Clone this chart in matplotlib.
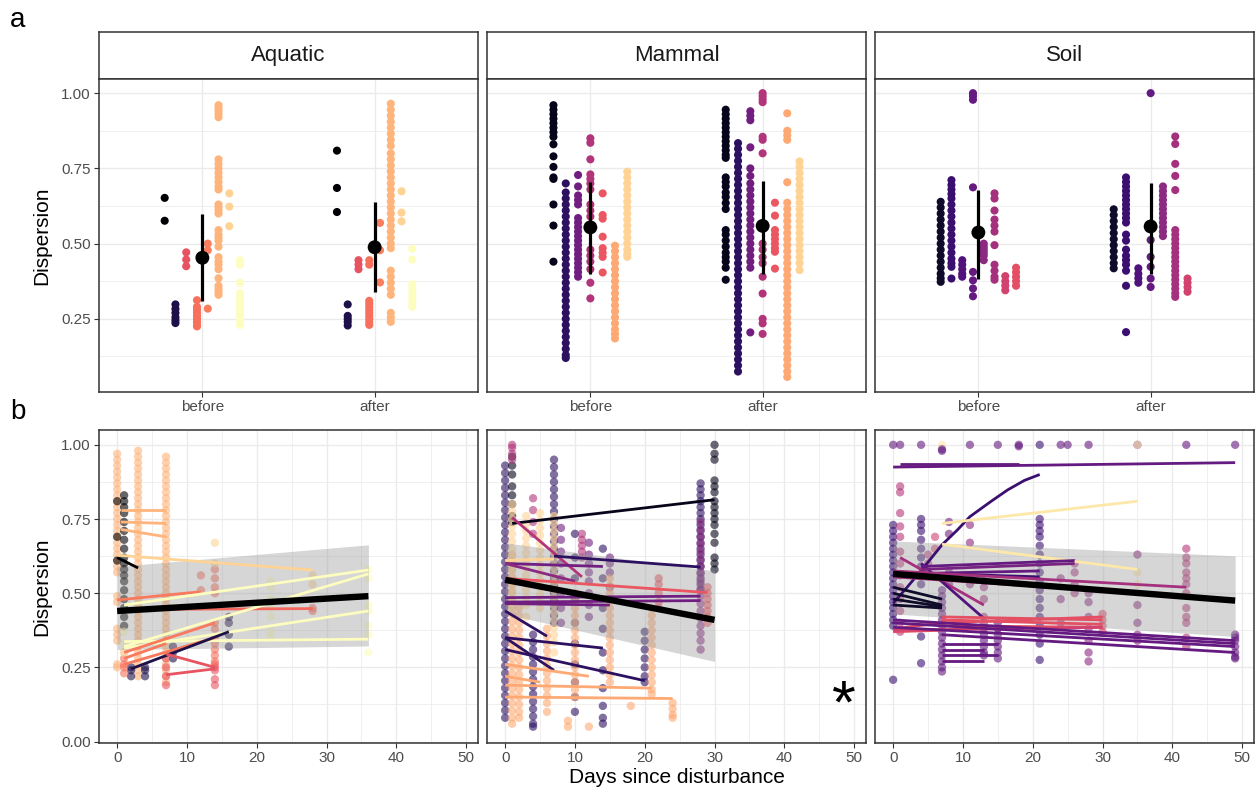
import numpy as np
import matplotlib.pyplot as plt

plt.rcParams['font.family'] = ['Liberation Sans', 'DejaVu Sans']

W, H = 1260, 791
magma = plt.get_cmap('magma')

panels = ['Aquatic', 'Mammal', 'Soil']
groups = ['before', 'after']

# ---- panel a: dispersion per study, before / after (magma fraction of each study)
aq_fracs_b = [0.0, 0.13, 0.63, 0.70, 0.73, 0.84, 0.91, 1.0]
aq_fracs_a = [0.0, 0.13, 0.63, 0.70, 0.73, 0.84, 0.91, 1.0]
aq_before = [
    [0.652, 0.576],
    [0.298, 0.283, 0.27, 0.255, 0.245, 0.236],
    [0.471, 0.447, 0.425],
    [0.312, 0.29, 0.28, 0.27, 0.26, 0.25, 0.24, 0.23, 0.225],
    [0.50, 0.478, 0.284],
    [0.96, 0.95, 0.94, 0.93, 0.92, 0.78, 0.765, 0.75, 0.735, 0.72, 0.705, 0.69, 0.68, 0.63, 0.62,
     0.61, 0.60, 0.545, 0.53, 0.52, 0.51, 0.49, 0.455, 0.44, 0.43, 0.415, 0.385, 0.36, 0.35, 0.34, 0.33],
    [0.667, 0.623, 0.558],
    [0.445, 0.43, 0.37, 0.335, 0.32, 0.305, 0.29, 0.275, 0.26, 0.245, 0.23],
]
aq_after = [
    [0.809, 0.685, 0.605],
    [0.298, 0.26, 0.25, 0.24, 0.228],
    [0.445, 0.43, 0.415],
    [0.445, 0.43, 0.31, 0.30, 0.29, 0.28, 0.27, 0.26, 0.25, 0.24, 0.23],
    [0.569, 0.478, 0.371],
    [0.965, 0.945, 0.925, 0.905, 0.885, 0.865, 0.845, 0.825, 0.80, 0.78, 0.76, 0.74, 0.72, 0.70, 0.68,
     0.66, 0.64, 0.62, 0.60, 0.58, 0.56, 0.54, 0.52, 0.50, 0.485, 0.41, 0.39, 0.37, 0.35, 0.33, 0.27,
     0.255, 0.24],
    [0.674, 0.603, 0.574],
    [0.483, 0.447, 0.365, 0.35, 0.335, 0.32, 0.305, 0.29],
]

mam_fracs_b = [0.05, 0.17, 0.33, 0.49, 0.64, 0.82, 0.91]
mam_fracs_a = [0.05, 0.17, 0.33, 0.49, 0.64, 0.82, 0.91]
mam_before = [
    [0.96, 0.945, 0.93, 0.915, 0.90, 0.885, 0.87, 0.855, 0.83, 0.79, 0.755, 0.72, 0.715, 0.63, 0.56, 0.44],
    [0.70, 0.67, 0.65, 0.63, 0.61, 0.59, 0.57, 0.55, 0.53, 0.51, 0.49, 0.47, 0.45, 0.43, 0.41, 0.39,
     0.37, 0.35, 0.33, 0.31, 0.29, 0.27, 0.25, 0.23, 0.21, 0.19, 0.17, 0.15, 0.13, 0.12],
    [0.728, 0.69, 0.66, 0.645, 0.63, 0.585, 0.57, 0.555, 0.54, 0.525, 0.51, 0.495, 0.48, 0.465, 0.45,
     0.435, 0.42, 0.405, 0.39],
    [0.85, 0.835, 0.78, 0.73, 0.715, 0.70, 0.68, 0.63, 0.61, 0.59, 0.48, 0.46, 0.44, 0.415, 0.37, 0.318],
    [0.667, 0.595, 0.583, 0.523, 0.485, 0.47, 0.456, 0.404],
    [0.493, 0.475, 0.455, 0.435, 0.415, 0.395, 0.375, 0.355, 0.335, 0.315, 0.295, 0.275, 0.255, 0.235,
     0.215, 0.20, 0.185],
    [0.739, 0.72, 0.70, 0.68, 0.66, 0.64, 0.62, 0.60, 0.58, 0.56, 0.54, 0.52, 0.50, 0.48, 0.465, 0.456],
]
mam_after = [
    [0.945, 0.93, 0.915, 0.90, 0.885, 0.87, 0.855, 0.84, 0.825, 0.81, 0.795, 0.785, 0.72, 0.705, 0.69,
     0.67, 0.655, 0.635, 0.615, 0.545, 0.53, 0.51, 0.49, 0.47, 0.455, 0.44, 0.42, 0.38],
    [0.834, 0.815, 0.795, 0.775, 0.755, 0.735, 0.715, 0.695, 0.675, 0.655, 0.635, 0.615, 0.595, 0.575,
     0.555, 0.535, 0.515, 0.495, 0.475, 0.455, 0.435, 0.415, 0.395, 0.375, 0.355, 0.335, 0.315, 0.295,
     0.275, 0.255, 0.235, 0.215, 0.195, 0.175, 0.155, 0.135, 0.115, 0.095, 0.075],
    [0.94, 0.925, 0.91, 0.82, 0.75, 0.725, 0.70, 0.68, 0.66, 0.64, 0.62, 0.60, 0.58, 0.56, 0.54, 0.52,
     0.50, 0.48, 0.46, 0.44, 0.42, 0.205],
    [1.0, 0.99, 0.98, 0.97, 0.855, 0.845, 0.80, 0.50, 0.48, 0.455, 0.435, 0.39, 0.334, 0.25, 0.235, 0.20],
    [0.636, 0.593, 0.545, 0.53, 0.515, 0.50, 0.485, 0.473, 0.417],
    [0.933, 0.875, 0.86, 0.845, 0.704, 0.636, 0.615, 0.595, 0.575, 0.555, 0.535, 0.515, 0.495, 0.475,
     0.455, 0.435, 0.415, 0.395, 0.375, 0.355, 0.335, 0.315, 0.295, 0.275, 0.255, 0.235, 0.215, 0.195,
     0.175, 0.155, 0.135, 0.115, 0.095, 0.075, 0.057],
    [0.773, 0.755, 0.735, 0.715, 0.695, 0.675, 0.655, 0.635, 0.615, 0.595, 0.575, 0.555, 0.535, 0.515,
     0.495, 0.475, 0.455, 0.435, 0.412],
]

soil_fracs_b = [0.08, 0.2, 0.25, 0.3, 0.4, 0.46, 0.57, 0.62]
soil_fracs_a = [0.08, 0.2, 0.25, 0.3, 0.4, 0.46, 0.57]
soil_before = [
    [0.639, 0.62, 0.60, 0.58, 0.56, 0.54, 0.52, 0.50, 0.48, 0.46, 0.44, 0.42, 0.40, 0.385, 0.373],
    [0.711, 0.695, 0.68, 0.665, 0.65, 0.63, 0.61, 0.59, 0.57, 0.55, 0.53, 0.51, 0.49, 0.47, 0.45, 0.435,
     0.423, 0.384],
    [0.445, 0.43, 0.415, 0.40, 0.39],
    [1.0, 0.99, 0.978, 0.687, 0.406, 0.378, 0.351, 0.325],
    [0.50, 0.49, 0.48, 0.47, 0.46, 0.445],
    [0.667, 0.65, 0.61, 0.58, 0.56, 0.54, 0.495, 0.43, 0.41, 0.39, 0.38],
    [0.392, 0.375, 0.36, 0.345],
    [0.42, 0.405, 0.39, 0.375, 0.36],
]
soil_after = [
    [0.614, 0.595, 0.575, 0.555, 0.535, 0.515, 0.495, 0.475, 0.455, 0.435, 0.418],
    [0.72, 0.705, 0.69, 0.675, 0.66, 0.645, 0.63, 0.615, 0.60, 0.585, 0.57, 0.53, 0.51, 0.48, 0.46,
     0.445, 0.43, 0.41, 0.36, 0.206],
    [0.418, 0.40, 0.385, 0.37],
    [1.0, 0.512, 0.456, 0.423, 0.384, 0.356],
    [0.69, 0.675, 0.66, 0.645, 0.63, 0.615, 0.60, 0.585, 0.57, 0.555, 0.54, 0.525],
    [0.856, 0.831, 0.765, 0.725, 0.678, 0.545, 0.53, 0.515, 0.50, 0.485, 0.47, 0.455, 0.44, 0.425, 0.41,
     0.395, 0.38, 0.365, 0.35, 0.335, 0.323],
    [0.384, 0.37, 0.355, 0.34],
]

# mean and interval, before / after
mean_aq, lo_aq, hi_aq = [0.453, 0.488], [0.311, 0.338], [0.600, 0.637]
mean_mam, lo_mam, hi_mam = [0.554, 0.559], [0.399, 0.400], [0.704, 0.709]
mean_soil, lo_soil, hi_soil = [0.537, 0.557], [0.384, 0.400], [0.678, 0.702]

# ---- panel b: dispersion over days since disturbance (frac, day, values)
aq_pts = [
    (0.84, 0, [0.97, 0.95, 0.93, 0.91, 0.89, 0.87, 0.85, 0.83, 0.81, 0.79, 0.77, 0.75, 0.73, 0.71, 0.69,
               0.67, 0.65, 0.63, 0.61, 0.59, 0.57, 0.49, 0.47, 0.38, 0.36, 0.34, 0.26, 0.25]),
    (0.84, 3, [0.98, 0.96, 0.94, 0.92, 0.90, 0.88, 0.86, 0.84, 0.82, 0.80, 0.78, 0.76, 0.74, 0.72, 0.70,
               0.68, 0.66, 0.64, 0.62, 0.60, 0.58, 0.56, 0.54, 0.52, 0.50, 0.48, 0.46, 0.44, 0.42, 0.40,
               0.38, 0.36, 0.34, 0.32, 0.30, 0.28, 0.26, 0.24, 0.22]),
    (0.84, 7, [0.96, 0.94, 0.92, 0.90, 0.88, 0.86, 0.84, 0.82, 0.80, 0.78, 0.76, 0.74, 0.72, 0.70, 0.68,
               0.66, 0.64, 0.62, 0.60, 0.58, 0.56, 0.54, 0.52, 0.50, 0.48, 0.46, 0.44, 0.42, 0.40, 0.38,
               0.36, 0.34, 0.32, 0.30, 0.28, 0.26, 0.24, 0.22, 0.20]),
    (0.0, 0, [0.81, 0.69, 0.61]),
    (0.0, 1, [0.83, 0.81, 0.79, 0.77, 0.74, 0.71, 0.68, 0.65, 0.62, 0.60, 0.58, 0.56, 0.54, 0.51, 0.48,
              0.45, 0.42, 0.39]),
    (0.13, 2, [0.25, 0.24, 0.22]),
    (0.13, 4, [0.25, 0.24, 0.22]),
    (0.13, 8, [0.32, 0.30, 0.28]),
    (0.13, 16, [0.42, 0.40, 0.36, 0.32]),
    (0.63, 7, [0.28, 0.25, 0.22, 0.19]),
    (0.63, 14, [0.26, 0.25, 0.24, 0.21, 0.19]),
    (0.70, 1, [0.30, 0.28, 0.26, 0.25, 0.23]),
    (0.70, 12, [0.56, 0.51]),
    (0.70, 14, [0.58, 0.55, 0.52, 0.50, 0.40, 0.38, 0.35, 0.33, 0.31, 0.29, 0.27]),
    (0.70, 28, [0.45, 0.44]),
    (0.91, 14, [0.67, 0.60]),
    (0.91, 28, [0.56, 0.53]),
    (1.0, 1, [0.37, 0.33, 0.30]),
    (1.0, 22, [0.54, 0.52, 0.48, 0.45, 0.42, 0.37, 0.35]),
    (1.0, 36, [0.58, 0.55, 0.46, 0.44, 0.39, 0.36, 0.30]),
]
aq_lines = [
    (0.0, [0, 3], [0.62, 0.585]),
    (0.84, [0.5, 7], [0.78, 0.78]),
    (0.84, [0.5, 7], [0.74, 0.735]),
    (0.84, [0.5, 7], [0.715, 0.69]),
    (0.91, [0, 28], [0.628, 0.578]),
    (0.72, [0, 12], [0.477, 0.505]),
    (0.68, [0, 28], [0.445, 0.448]),
    (1.0, [1, 36], [0.46, 0.578]),
    (1.0, [1, 36], [0.32, 0.565]),
    (1.0, [1, 36], [0.315, 0.44]),
    (1.0, [1, 36], [0.337, 0.345]),
    (0.72, [1, 14], [0.30, 0.40]),
    (0.72, [1, 14], [0.26, 0.35]),
    (0.72, [1, 7], [0.28, 0.33]),
    (0.13, [2, 16], [0.245, 0.37]),
    (0.63, [7, 14], [0.295, 0.25]),
    (0.63, [7, 14], [0.225, 0.245]),
]
aq_fit_days, aq_fit = [0, 36], [0.44, 0.49]
aq_ci_lo, aq_ci_hi = [0.31, 0.322], [0.59, 0.663]

mam_pts = [
    (0.17, 0, [0.93, 0.905, 0.88, 0.855, 0.83, 0.805, 0.78, 0.755, 0.73, 0.705, 0.68, 0.655, 0.63, 0.605,
               0.58, 0.555, 0.53, 0.505, 0.48, 0.455, 0.43, 0.405, 0.38, 0.355, 0.33, 0.305, 0.28, 0.255,
               0.23, 0.205, 0.18, 0.155, 0.13, 0.105, 0.08]),
    (0.82, 1, [0.63, 0.605, 0.58, 0.555, 0.53, 0.505, 0.48, 0.455, 0.43, 0.405, 0.38, 0.355, 0.33, 0.305,
               0.28, 0.255, 0.23, 0.205, 0.18, 0.155, 0.13, 0.105, 0.08, 0.06]),
    (0.05, 1, [0.96, 0.93, 0.90, 0.86, 0.83, 0.80, 0.76, 0.74]),
    (0.49, 1, [1.0, 0.99, 0.97, 0.95]),
    (0.91, 1, [0.80, 0.775, 0.75, 0.725, 0.70, 0.675, 0.65, 0.625, 0.60, 0.575, 0.55, 0.525, 0.50, 0.475,
               0.45]),
    (0.82, 2, [0.45, 0.425, 0.40, 0.375, 0.35, 0.325, 0.30, 0.275, 0.25, 0.225, 0.20, 0.175, 0.15, 0.125,
               0.10, 0.08]),
    (0.91, 3, [0.76, 0.735, 0.71, 0.685, 0.66, 0.635, 0.61, 0.585, 0.56, 0.535, 0.51, 0.485, 0.46, 0.42]),
    (0.17, 4, [0.36, 0.335, 0.31, 0.285, 0.26, 0.235, 0.21, 0.185, 0.16, 0.135, 0.11, 0.085, 0.06, 0.05]),
    (0.49, 4, [0.82, 0.78, 0.74, 0.70]),
    (0.91, 5, [0.77, 0.745, 0.72, 0.695, 0.67, 0.645, 0.62, 0.595, 0.57, 0.545, 0.52, 0.495, 0.47, 0.45]),
    (0.82, 6, [0.38, 0.355, 0.33, 0.305, 0.28, 0.255, 0.23, 0.205, 0.18, 0.155, 0.13, 0.10]),
    (0.17, 7, [0.95, 0.925, 0.90, 0.875, 0.85, 0.825, 0.80, 0.775, 0.75, 0.725, 0.70, 0.675, 0.65, 0.625,
               0.60, 0.575, 0.55, 0.525, 0.50, 0.475, 0.45, 0.425, 0.40]),
    (0.91, 7, [0.76, 0.735, 0.71, 0.685, 0.66, 0.635, 0.61, 0.585, 0.56, 0.535, 0.51, 0.485, 0.46, 0.435,
               0.41, 0.385, 0.36, 0.335, 0.30]),
    (0.33, 8, [0.72, 0.68, 0.64, 0.60, 0.55, 0.50, 0.45, 0.40]),
    (0.17, 10, [0.70, 0.62, 0.55, 0.48, 0.40, 0.33, 0.26, 0.20, 0.15, 0.10]),
    (0.82, 10, [0.50, 0.475, 0.45, 0.425, 0.40, 0.375, 0.35, 0.325, 0.30, 0.275, 0.25, 0.225, 0.20, 0.175,
                0.15]),
    (0.49, 11, [0.70, 0.68, 0.66, 0.64, 0.62]),
    (0.33, 12, [0.67, 0.63, 0.60, 0.57, 0.54, 0.50, 0.46, 0.42]),
    (0.17, 14, [0.65, 0.55, 0.45, 0.38, 0.30, 0.24, 0.18, 0.12, 0.08, 0.06]),
    (0.33, 15, [0.62, 0.60, 0.57, 0.52, 0.48]),
    (0.82, 15, [0.55, 0.525, 0.50, 0.475, 0.45, 0.425, 0.40, 0.375, 0.35, 0.325, 0.30, 0.275, 0.25, 0.225,
                0.20]),
    (0.17, 20, [0.37, 0.34, 0.31, 0.28, 0.25, 0.22, 0.20]),
    (0.82, 21, [0.45, 0.425, 0.40, 0.375, 0.35, 0.325, 0.30, 0.275, 0.25, 0.225, 0.20, 0.175, 0.16]),
    (0.64, 22, [0.55, 0.53, 0.50, 0.47, 0.45]),
    (0.82, 24, [0.13, 0.11, 0.09, 0.08]),
    (0.82, 18, [0.12]),
    (0.82, 12, [0.05]),
    (0.82, 9, [0.05, 0.07]),
    (0.17, 28, [0.87, 0.85, 0.83, 0.81, 0.79, 0.77, 0.75, 0.73, 0.71, 0.69, 0.67, 0.65, 0.63, 0.61, 0.59,
                0.57, 0.55, 0.53, 0.51]),
    (0.40, 28, [0.74, 0.715, 0.69, 0.665, 0.64, 0.615, 0.59, 0.565, 0.54, 0.515, 0.49, 0.465, 0.44, 0.415,
                0.39, 0.365, 0.34, 0.31]),
    (0.64, 29, [0.52, 0.50, 0.48, 0.46, 0.44, 0.42, 0.40]),
    (0.05, 30, [1.0, 0.97, 0.95, 0.88, 0.86, 0.84, 0.81, 0.79, 0.77, 0.75, 0.73, 0.70, 0.67, 0.62, 0.60,
                0.58]),
]
mam_lines = [
    (0.05, [1, 30], [0.735, 0.815]),
    (0.49, [1, 11], [0.755, 0.555]),
    (0.17, [7, 28], [0.625, 0.588]),
    (0.33, [0, 14], [0.60, 0.59]),
    (0.91, [0, 7], [0.61, 0.615]),
    (0.40, [0, 10], [0.60, 0.54]),
    (0.64, [0, 29], [0.55, 0.502]),
    (0.33, [0, 28], [0.485, 0.49]),
    (0.33, [0, 28], [0.47, 0.475]),
    (0.33, [0, 15], [0.465, 0.46]),
    (0.17, [0, 6], [0.44, 0.355]),
    (0.17, [0, 14], [0.35, 0.315]),
    (0.17, [0, 7], [0.35, 0.24]),
    (0.17, [0, 20], [0.31, 0.205]),
    (0.82, [0, 12], [0.26, 0.22]),
    (0.82, [0, 5], [0.22, 0.20]),
    (0.82, [0, 21], [0.19, 0.18]),
    (0.82, [0, 24], [0.15, 0.145]),
]
mam_fit_days, mam_fit = [0, 30], [0.545, 0.41]
mam_ci_lo, mam_ci_hi = [0.43, 0.27], [0.67, 0.575]

soil_pts = [
    (0.3, 0, [1.0]), (0.3, 1, [1.0]), (0.3, 4, [1.0]), (0.95, 7, [1.0]), (0.3, 7, [0.985, 0.98]),
    (0.3, 11, [1.0]), (0.3, 15, [1.0]), (0.3, 18, [1.0, 0.995]), (0.2, 21, [1.0]), (0.3, 24, [1.0]),
    (0.3, 25, [1.0]), (0.3, 28, [1.0]), (0.3, 35, [1.0]), (0.95, 35, [1.0]), (0.3, 42, [1.0]),
    (0.3, 49, [1.0]),
    (0.2, 0, [0.73, 0.71, 0.69, 0.67, 0.65, 0.63, 0.61, 0.59, 0.57, 0.55, 0.53, 0.51, 0.49, 0.47, 0.45,
              0.43, 0.41, 0.39, 0.208]),
    (0.5, 1, [0.86, 0.84, 0.77, 0.725, 0.69, 0.64, 0.60, 0.56, 0.52, 0.48, 0.44, 0.40, 0.37]),
    (0.2, 4, [0.75, 0.73, 0.71, 0.68, 0.65, 0.62, 0.59, 0.56, 0.53, 0.354, 0.264]),
    (0.5, 5, [0.63, 0.60]),
    (0.57, 6, [0.69, 0.65]),
    (0.3, 7, [0.51, 0.49, 0.47, 0.45, 0.43, 0.41, 0.39, 0.37, 0.35, 0.33, 0.31, 0.29, 0.27, 0.25, 0.236]),
    (0.35, 8, [0.74, 0.70, 0.57, 0.53]),
    (0.4, 11, [0.73, 0.67, 0.55, 0.53]),
    (0.45, 13, [0.54, 0.52, 0.48, 0.42, 0.40]),
    (0.3, 13, [0.38, 0.36, 0.34, 0.32, 0.30, 0.29]),
    (0.3, 15, [0.40, 0.38, 0.36, 0.34, 0.32, 0.30, 0.28]),
    (0.2, 21, [0.75, 0.73, 0.71, 0.69, 0.66, 0.63, 0.60, 0.57, 0.54, 0.51, 0.48, 0.45, 0.42, 0.39, 0.36,
               0.33, 0.275]),
    (0.4, 24, [0.55, 0.48, 0.40]),
    (0.46, 26, [0.60, 0.57, 0.53, 0.50]),
    (0.4, 28, [0.50, 0.47, 0.42, 0.38, 0.34, 0.30, 0.27]),
    (0.6, 30, [0.43, 0.41, 0.39, 0.37]),
    (0.4, 35, [0.63, 0.46, 0.40, 0.36, 0.34]),
    (0.95, 35, [0.57, 0.53]),
    (0.5, 42, [0.65, 0.62, 0.60, 0.57, 0.55, 0.53, 0.50, 0.45, 0.42, 0.40, 0.35, 0.32]),
    (0.3, 49, [0.36, 0.35, 0.34, 0.32, 0.30, 0.285, 0.28]),
]
soil_lines = [
    (0.3, [0, 49], [0.925, 0.94]),
    (0.3, [1, 18], [0.935, 0.935]),
    (0.2, [0, 2, 4.5, 7, 9.2, 11, 14, 16.4, 18.8, 21],
     [0.466, 0.52, 0.59, 0.663, 0.713, 0.758, 0.809, 0.848, 0.88, 0.90]),
    (0.95, [7, 35], [0.735, 0.81]),
    (0.95, [7, 35], [0.665, 0.58]),
    (0.08, [0, 7], [0.52, 0.48]),
    (0.08, [0, 7], [0.50, 0.46]),
    (0.08, [0, 7], [0.48, 0.455]),
    (0.08, [0, 7], [0.46, 0.45]),
    (0.46, [1, 13], [0.62, 0.46]),
    (0.25, [4, 13], [0.60, 0.415]),
    (0.3, [4, 26], [0.59, 0.61]),
    (0.35, [4, 26], [0.58, 0.60]),
    (0.3, [1, 21], [0.565, 0.575]),
    (0.2, [0, 21], [0.57, 0.555]),
    (0.46, [0, 42], [0.575, 0.52]),
    (0.46, [0, 42], [0.555, 0.49]),
    (0.62, [7, 30], [0.42, 0.41]),
    (0.62, [7, 30], [0.41, 0.395]),
    (0.62, [7, 30], [0.40, 0.42]),
    (0.62, [7, 30], [0.39, 0.385]),
    (0.62, [0, 7], [0.38, 0.40]),
    (0.62, [0, 7], [0.37, 0.375]),
    (0.57, [0, 30], [0.375, 0.385]),
    (0.3, [0, 49], [0.41, 0.34]),
    (0.3, [0, 49], [0.40, 0.33]),
    (0.3, [0, 49], [0.385, 0.32]),
    (0.3, [7, 49], [0.36, 0.30]),
    (0.3, [7, 15], [0.33, 0.33]),
    (0.3, [7, 13], [0.31, 0.31]),
    (0.3, [7, 15], [0.29, 0.29]),
    (0.3, [7, 13], [0.27, 0.27]),
]
soil_fit_days, soil_fit = [0, 49], [0.565, 0.475]
soil_ci_lo, soil_ci_hi = [0.43, 0.354], [0.676, 0.626]

top_data = [
    (aq_fracs_b, aq_before, aq_fracs_a, aq_after, mean_aq, lo_aq, hi_aq),
    (mam_fracs_b, mam_before, mam_fracs_a, mam_after, mean_mam, lo_mam, hi_mam),
    (soil_fracs_b, soil_before, soil_fracs_a, soil_after, mean_soil, lo_soil, hi_soil),
]
bottom_data = [
    (aq_pts, aq_lines, aq_fit_days, aq_fit, aq_ci_lo, aq_ci_hi),
    (mam_pts, mam_lines, mam_fit_days, mam_fit, mam_ci_lo, mam_ci_hi),
    (soil_pts, soil_lines, soil_fit_days, soil_fit, soil_ci_lo, soil_ci_hi),
]

border = '#333333'
grid_c = '#ebebeb'
tick_c = '#4d4d4d'


def rect(x0, y0, x1, y1):
    return [x0 / W, 1 - y1 / H, (x1 - x0) / W, (y1 - y0) / H]


def style(ax, show_y):
    for s in ax.spines.values():
        s.set_color(border)
        s.set_linewidth(1.1)
    ax.grid(True, which='major', color=grid_c, lw=1.0, zorder=0)
    ax.grid(True, which='minor', color=grid_c, lw=0.55, zorder=0)
    ax.set_axisbelow(True)
    ax.tick_params(which='major', length=3.5, width=0.8, color=border, labelsize=11,
                   labelcolor=tick_c, pad=2.5)
    ax.tick_params(which='minor', length=0)
    if not show_y:
        ax.tick_params(axis='y', which='both', left=False, labelleft=False)


fig = plt.figure(figsize=(W / 100, H / 100), dpi=100)
xs = [(99, 478), (487, 866), (875, 1254)]

for k, name in enumerate(panels):
    x0, x1 = xs[k]
    # strip
    sax = fig.add_axes(rect(x0, 32, x1, 79))
    sax.set_xticks([])
    sax.set_yticks([])
    for s in sax.spines.values():
        s.set_color(border)
        s.set_linewidth(1.1)
    sax.text(0.5, 0.5, name, ha='center', va='center', fontsize=16, color='#1a1a1a',
             transform=sax.transAxes)

    # panel a
    ax = fig.add_axes(rect(x0, 79, x1, 392))
    fb, vb, fa, va, mean, lo, hi = top_data[k]
    for j, (fracs, vals) in enumerate([(fb, vb), (fa, va)]):
        n = len(vals)
        for i, (f, v) in enumerate(zip(fracs, vals)):
            x = j + 1 + (i - (n - 1) / 2) * 0.5 / n
            ax.scatter(np.full(len(v), x), v, s=34, color=magma(f), edgecolors='none', zorder=2)
    ax.vlines([1, 2], lo, hi, color='black', lw=2.3, zorder=3)
    ax.scatter([1, 2], mean, s=100, color='black', zorder=4, edgecolors='none')
    ax.set_xlim(0.4, 2.6)
    ax.set_ylim(0.007, 1.047)
    ax.set_xticks([1, 2])
    ax.set_xticklabels(groups)
    ax.set_yticks([0.25, 0.5, 0.75, 1.0])
    ax.set_yticks([0.125, 0.375, 0.625, 0.875], minor=True)
    ax.set_yticklabels(['0.25', '0.50', '0.75', '1.00'])
    style(ax, k == 0)

    # panel b
    bx = fig.add_axes(rect(x0, 430, x1, 743))
    pts, lines, fd, fit, clo, chi = bottom_data[k]
    for f, d, v in pts:
        bx.scatter(np.full(len(v), d), v, s=36, color=magma(f), alpha=0.6, edgecolors='none', zorder=2)
    bx.fill_between(fd, clo, chi, color='#999999', alpha=0.4, lw=0, zorder=3)
    for f, d, v in lines:
        bx.plot(d, v, color=magma(f), lw=2.0, solid_capstyle='butt', zorder=4)
    bx.plot(fd, fit, color='black', lw=4.6, solid_capstyle='butt', zorder=5)
    bx.set_xlim(-2.6, 51.7)
    bx.set_ylim(-0.005, 1.05)
    bx.set_xticks([0, 10, 20, 30, 40, 50])
    bx.set_xticks([5, 15, 25, 35, 45], minor=True)
    bx.set_yticks([0, 0.25, 0.5, 0.75, 1.0])
    bx.set_yticks([0.125, 0.375, 0.625, 0.875], minor=True)
    bx.set_yticklabels(['0.00', '0.25', '0.50', '0.75', '1.00'])
    style(bx, k == 0)
    if k == 1:
        bx.set_xlabel('Days since disturbance', fontsize=15, color='black', labelpad=2)
        bx.text(48.6, 0.115, '*', fontsize=44, ha='center', va='center', color='black')

fig.text(42 / W, 1 - 236 / H, 'Dispersion', rotation=90, ha='center', va='center', fontsize=15)
fig.text(42 / W, 1 - 587 / H, 'Dispersion', rotation=90, ha='center', va='center', fontsize=15)
fig.text(18 / W, 1 - 20 / H, 'a', ha='center', va='center', fontsize=20)
fig.text(18 / W, 1 - 412 / H, 'b', ha='center', va='center', fontsize=20)

fig.savefig('out.png', dpi=100, facecolor='white')
